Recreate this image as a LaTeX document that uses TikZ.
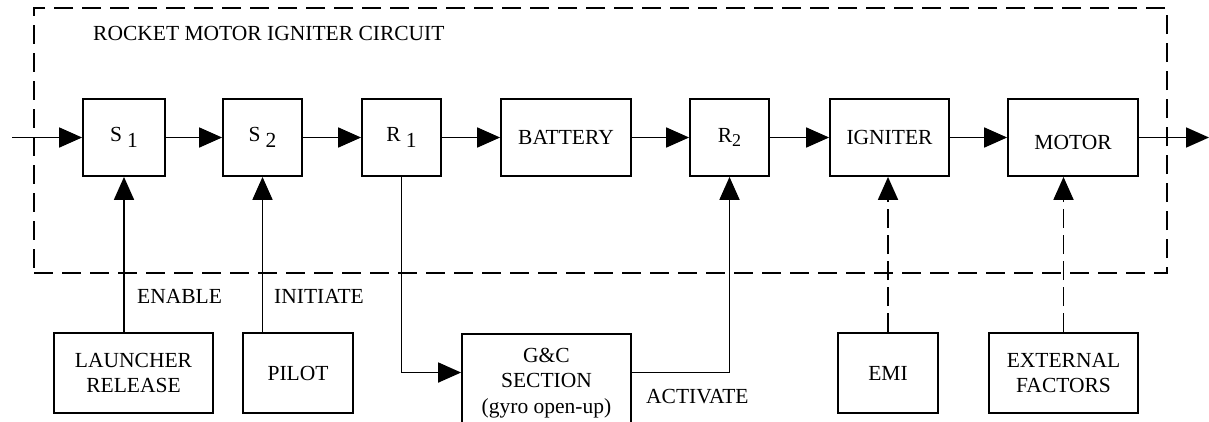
\documentclass[tikz,border=0pt]{standalone}
\usepackage{fontspec}
\setmainfont{Liberation Serif}
\usetikzlibrary{positioning, arrows.meta, calc}

\newcommand{\subidx}[2]{#1\hspace{5pt}\raisebox{-6pt}{#2}}

\begin{document}
\begin{tikzpicture}[x=1pt, y=-1pt,
  box/.style={draw, rectangle, line width=1.8pt, minimum height=77pt, align=center, inner sep=2pt,
    font=\fontsize{21.5}{25.5}\selectfont},
  lowbox/.style={box, minimum height=80pt},
  lbl/.style={font=\fontsize{21.5}{25.5}\selectfont, inner sep=0pt},
  arrow/.style={-{Triangle[length=23pt, width=20pt]}, line width=1.8pt},
  frame/.style={draw, line width=1.8pt, dash pattern=on 19pt off 9pt},
  weak/.style={arrow, dash pattern=on 19pt off 7pt}
]
  \useasboundingbox (0,0) rectangle (1209,421);

  % dashed circuit boundary
  \node[frame, minimum width=1133pt, minimum height=265pt, inner sep=0pt] (circuit) at (600.5,140.5) {};
  \node[lbl, anchor=base west] (title) at (93,40) {ROCKET MOTOR IGNITER CIRCUIT};

  % top chain
  \node[box, minimum width=82pt]  (s1)  at (124,137.5)    {\subidx{S}{1}};
  \node[box, minimum width=79pt]  (s2)  at (262.5,137.5)  {\subidx{S}{2}};
  \node[box, minimum width=79pt]  (r1)  at (401.5,137.5)  {\subidx{R}{1}};
  \node[box, minimum width=130pt] (bat) at (566,137.5)    {BATTERY};
  \node[box, minimum width=79pt]  (r2)  at (729.5,137.5)  {R\raisebox{-4pt}{\fontsize{18}{18}\selectfont 2}};
  \node[box, minimum width=119pt] (ign) at (889.5,137.5)  {IGNITER};
  \node[box, minimum width=130pt] (mot) at (1073,137.5)   {\raisebox{-5pt}[\height][\depth]{MOTOR}};
  \coordinate (in)  at (12,137.5);
  \coordinate (out) at (1209,137.5);

  % bottom row
  \node[lowbox, minimum width=159pt] (launch) at (133.5,373) {LAUNCHER\\RELEASE};
  \node[lowbox, minimum width=110pt] (pilot)  at (298,373)   {PILOT};
  \node[box, minimum width=169pt, minimum height=98pt] (gc) at (546.5,383) {G\&C\\SECTION\\(gyro open-up)};
  \node[lowbox, minimum width=100pt] (emi)    at (888,373)   {EMI};
  \node[lowbox, minimum width=149pt] (ext)    at (1063.5,373) {EXTERNAL\\FACTORS};

  \node[lbl, anchor=base west] (enable)   at (137,303) {ENABLE};
  \node[lbl, anchor=base west] (initiate) at (274,303) {INITIATE};
  \node[lbl, anchor=base west] (activate) at (646,403) {ACTIVATE};

  \draw[arrow] (in) -- (s1.west);
  \draw[arrow] (s1.east) -- (s2.west);
  \draw[arrow] (s2.east) -- (r1.west);
  \draw[arrow] (r1.east) -- (bat.west);
  \draw[arrow] (bat.east) -- (r2.west);
  \draw[arrow] (r2.east) -- (ign.west);
  \draw[arrow] (ign.east) -- (mot.west);
  \draw[arrow] (mot.east) -- (out);

  \draw[arrow] (launch.north -| s1.south) -- (s1.south);
  \draw[arrow] (pilot.north -| s2.south) -- (s2.south);
  \draw[arrow] (r1.south) |- (gc.173);
  \draw[arrow] (gc.7) -| (r2.south);
  \draw[weak] (emi.north) -- (emi.north |- ign.south);
  \draw[weak] (ext.north) -- (ext.north |- mot.south);
\end{tikzpicture}
\end{document}
